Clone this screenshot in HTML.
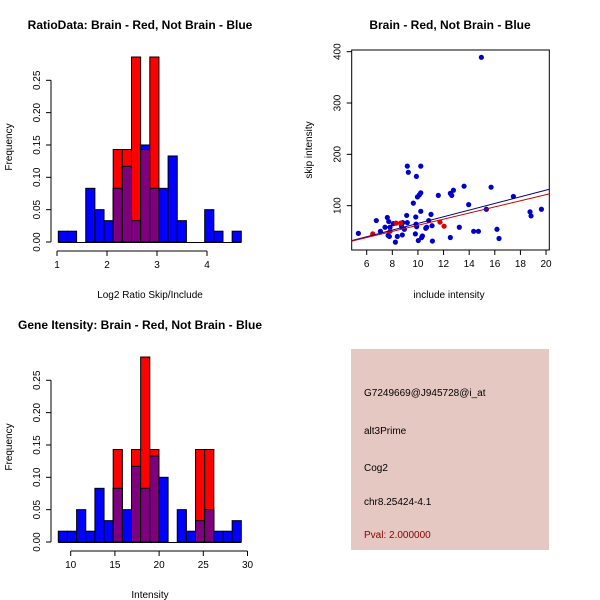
<!DOCTYPE html>
<html><head><meta charset="utf-8"><style>body{margin:0;background:#fff}svg{display:block;font-family:"Liberation Sans",sans-serif}</style></head>
<body>
<svg id="s" width="600" height="600" viewBox="0 0 600 600">
<rect width="600" height="600" fill="#fff"/>
<text x="140" y="29" font-size="12" font-weight="bold" text-anchor="middle">RatioData: Brain - Red, Not Brain - Blue</text>
<text x="450" y="29" font-size="12" font-weight="bold" text-anchor="middle">Brain - Red, Not Brain - Blue</text>
<text x="140" y="329" font-size="12" font-weight="bold" text-anchor="middle">Gene Itensity: Brain - Red, Not Brain - Blue</text>
<text x="150" y="298" font-size="10" text-anchor="middle">Log2 Ratio Skip/Include</text>
<text x="150" y="598" font-size="10" text-anchor="middle">Intensity</text>
<text x="449" y="298" font-size="10" text-anchor="middle">include intensity</text>
<text transform="translate(12,147) rotate(-90)" font-size="10" text-anchor="middle">Frequency</text>
<text transform="translate(12,447) rotate(-90)" font-size="10" text-anchor="middle">Frequency</text>
<text transform="translate(312,150) rotate(-90)" font-size="10" text-anchor="middle">skip intensity</text>
<g>
<rect x="351" y="349" width="198" height="201" fill="#e6c8c2"/>
<text x="364" y="396" font-size="10">G7249669@J945728@i_at</text>
<text x="364" y="434" font-size="10">alt3Prime</text>
<text x="364" y="471" font-size="10">Cog2</text>
<text x="364" y="505" font-size="10">chr8.25424-4.1</text>
<text x="364" y="538" font-size="10" fill="#8b0000">Pval: 2.000000</text>
</g>
</svg>
<script>
const ratioBlue=[0.0167,0.0167,0,0.083,0.05,0.033,0.083,0.117,0.033,0.15,0.083,0.083,0.133,0.033,0,0,0.05,0.0167,0,0.0167];
const ratioRed=[0,0,0,0,0,0,0.143,0.143,0.286,0.143,0.286,0,0,0,0,0,0,0,0,0];
const ratioXTicks=[1,2,3,4];
const intBlue=[0.0167,0.0167,0.05,0.0167,0.083,0.033,0.083,0.05,0.117,0.083,0.133,0.1,0,0.05,0.0167,0.033,0.05,0.0167,0.0167,0.033];
const intRed=[0,0,0,0,0,0,0.143,0,0.143,0.286,0.143,0,0,0,0,0.143,0.143,0,0,0];
const intXTicks=[10,15,20,25,30];
const freqTicks=[0,0.05,0.10,0.15,0.20,0.25];
const blueX=[5.35,6.75,7.07,7.43,7.61,7.72,7.67,7.82,7.77,8.08,8.24,8.39,8.68,8.78,8.73,8.81,8.94,9.12,9.17,9.17,9.25,9.64,9.8,9.83,9.85,9.88,9.9,9.96,10.03,10.11,10.22,10.22,10.22,10.29,10.35,10.61,10.68,10.84,11.02,11.13,11.1,11.59,12.53,12.53,12.64,12.77,13.23,13.6,13.96,14.35,14.72,14.95,15.34,15.71,16.17,16.33,17.45,18.75,18.83,19.64];
const blueY=[46,71,50,58,77,69,42,58,40,65,29,40,64,43,59,67,54,81,67,177,165,105,45,78,64,157,59,117,32,121,89,177,125,38,41,56,58,71,83,31,61,120,38,124,120,130,58,138,102,50,50,389,93,136,54,36,118,88,80,93];
const redX=[6.47,7.82,8.29,8.65,11.72,12.04];
const redY=[45,50,66,66,68,60];
const blueFit=[0.7,6.48];
const redFit=[2.2,5.96];
const scatterXTicks=[6,8,10,12,14,16,18,20];
const scatterYTicks=[100,200,300,400];

const S=document.getElementById('s');const NS='http://www.w3.org/2000/svg';
function mk(t,a,p){const e=document.createElementNS(NS,t);for(const k in a)e.setAttribute(k,a[k]);(p||S).appendChild(e);return e;}
function fmt(v){return v===0?'0.00':v.toFixed(2);}

function hist(name,top,x0,bw,xs,blue,red,xticks){
  const g=mk('g',{});
  
  
  const y0=top+202,sc=(161.7)/0.25;
  const Y=v=>y0-v*sc;
  const X=v=>xs.px0+(v-xs.v0)*xs.k;
  blue.forEach((b,i)=>{
    const r=red[i],xl=x0+i*bw;
    if(b>0){const e=mk('rect',{x:xl,y:Y(b),width:bw,height:y0-Y(b),fill:'#0000ff',stroke:'#000','stroke-width':1},g);
      
      }
    if(r>0){const e=mk('rect',{x:xl,y:Y(r),width:bw,height:y0-Y(r),fill:'#ff0000',stroke:'#000','stroke-width':1},g);
      
      }
    const m=Math.min(b,r);
    if(m>0){const e=mk('rect',{x:xl,y:Y(m),width:bw,height:y0-Y(m),fill:'#7f007f',stroke:'#000','stroke-width':1},g);
      
      }
  });
  mk('line',{x1:x0,x2:x0+bw*blue.length,y1:y0+0.5,y2:y0+0.5,stroke:'#000'},g);
  // y axis
  const ax=51;
  mk('line',{x1:ax,x2:ax,y1:Y(0),y2:Y(0.25),stroke:'#000'},g);
  freqTicks.forEach(t=>{mk('line',{x1:ax-5,x2:ax,y1:Y(t),y2:Y(t),stroke:'#000'},g);
    const tx=mk('text',{transform:`translate(${ax-11},${Y(t)}) rotate(-90)`,'font-size':10,'text-anchor':'middle'},g);tx.textContent=fmt(t);});
  // x axis
  const ay=y0+9;
  mk('line',{x1:X(xticks[0]),x2:X(xticks[xticks.length-1]),y1:ay,y2:ay,stroke:'#000'},g);
  xticks.forEach(t=>{mk('line',{x1:X(t),x2:X(t),y1:ay,y2:ay+5,stroke:'#000'},g);
    const tx=mk('text',{x:X(t),y:ay+17,'font-size':10,'text-anchor':'middle'},g);tx.textContent=t;});
}
hist('ratio-histogram',40,58.3,9.15,{px0:57,v0:1,k:50},ratioBlue,ratioRed,ratioXTicks);
hist('intensity-histogram',340,58.3,9.15,{px0:70.7,v0:10,k:8.84},intBlue,intRed,intXTicks);

// scatter
const g=mk('g',{});


const L=351.7,R=549.3,T=50,B=250;
const sx=v=>366.7+(v-6)*12.81, sy=v=>257-v*0.5133;
mk('rect',{x:L,y:T,width:R-L,height:B-T,fill:'none',stroke:'#000'},g);
scatterXTicks.forEach(t=>{mk('line',{x1:sx(t),x2:sx(t),y1:B,y2:B+5,stroke:'#000'},g);
  const tx=mk('text',{x:sx(t),y:B+17,'font-size':10,'text-anchor':'middle'},g);tx.textContent=t;});
scatterYTicks.forEach(t=>{mk('line',{x1:L-5,x2:L,y1:sy(t),y2:sy(t),stroke:'#000'},g);
  const tx=mk('text',{transform:`translate(${L-11},${sy(t)}) rotate(-90)`,'font-size':10,'text-anchor':'middle'},g);tx.textContent=t;});
const cp=mk('clipPath',{id:'cp'},g);mk('rect',{x:L,y:T,width:R-L,height:B-T},cp);
blueX.forEach((x,i)=>{const c=mk('circle',{cx:sx(x),cy:sy(blueY[i]),r:2.6,fill:'#0000cc'},g);
  
  });
redX.forEach((x,i)=>{const c=mk('circle',{cx:sx(x),cy:sy(redY[i]),r:2.6,fill:'#dd0000'},g);
  
  });
const xa=4.83,xb=20.26;
const lb=mk('line',{x1:sx(xa),x2:sx(xb),y1:sy(blueFit[0]+blueFit[1]*xa),y2:sy(blueFit[0]+blueFit[1]*xb),stroke:'#00008b','clip-path':'url(#cp)'},g);


const lr=mk('line',{x1:sx(xa),x2:sx(xb),y1:sy(redFit[0]+redFit[1]*xa),y2:sy(redFit[0]+redFit[1]*xb),stroke:'#cc0000','clip-path':'url(#cp)'},g);


</script>
</body></html>
